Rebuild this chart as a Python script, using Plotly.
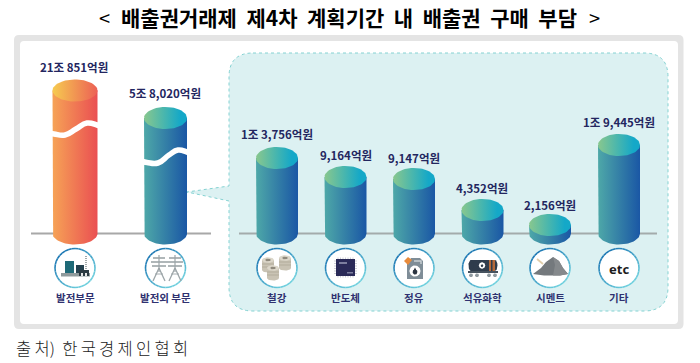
import numpy as np
import plotly.graph_objects as go

# ---------- data ----------
categories = ["발전부문", "발전외 부문", "철강", "반도체", "정유", "석유화학", "시멘트", "기타"]
value_labels = ["21조 851억원", "5조 8,020억원", "1조 3,756억원", "9,164억원", "9,147억원", "4,352억원", "2,156억원", "1조 9,445억원"]
# drawn cylinder heights (the axis is broken for the first two)
drawn_heights = [143, 115.5, 75.5, 56.5, 54.5, 23.5, 8.5, 88.5]

# ---------- layout constants ----------
W, H = 700, 363
BASE = 233.5
centers = [75, 165.5, 277, 345.5, 414, 482.5, 550, 619]
half_widths = [22.5, 21.5, 21, 21, 21, 21, 21, 21]
RY = 11
FONT = "Noto Sans CJK KR"
NAVY = "#23265f"
py = lambda p: BASE - p  # picture row -> axis value

fig = go.Figure()
theta = np.linspace(0, np.pi, 40)


def poly(xs, ys, color, px=True):
    fig.add_trace(go.Scatter(x=list(xs), y=[py(v) for v in ys] if px else list(ys), mode="lines",
                             fill="toself", fillcolor=color, line=dict(width=0), hoverinfo="skip"))


def line(xs, ys, color, w=1.0, dash=None, shape="linear", smoothing=1.0):
    fig.add_trace(go.Scatter(x=list(xs), y=[py(v) for v in ys], mode="lines",
                             line=dict(color=color, width=w, dash=dash, shape=shape,
                                       **({"smoothing": smoothing} if shape == "spline" else {})),
                             hoverinfo="skip"))


def rect(x0, y0, x1, y1, color):
    poly([x0, x1, x1, x0, x0], [y0, y0, y1, y1, y0], color)


def ell(cx, cy, rx, ry, color):
    t = np.linspace(0, 2 * np.pi, 40)
    poly(cx + rx * np.cos(t), cy + ry * np.sin(t), color)


# ---------- cylinders ----------
for i, (cx, rx, h) in enumerate(zip(centers, half_widths, drawn_heights)):
    if i == 0:
        body = [[0, "#f6a356"], [1, "#ea4f52"]]
        top = [[0, "#f6cb50"], [1, "#ec6055"]]
    else:
        body = [[0, "#4ea8a8"], [1, "#1a57a5"]]
        top = [[0, "#88c78e"], [0.85, "#14a8c8"], [1, "#14a8c8"]]
    bx = [cx - rx] + list(cx - rx * np.cos(theta)) + [cx + rx, cx - rx]
    by = [h] + list(-RY * np.sin(theta)) + [h, h]
    fig.add_trace(go.Scatter(x=bx, y=by, mode="lines", fill="toself", line=dict(width=0),
                             fillgradient=dict(type="horizontal", colorscale=body), hoverinfo="skip"))
    t = np.linspace(0, 2 * np.pi, 60)
    fig.add_trace(go.Scatter(x=cx + rx * np.cos(t), y=h + RY * np.sin(t), mode="lines", fill="toself",
                             line=dict(width=0), fillgradient=dict(type="horizontal", colorscale=top),
                             hoverinfo="skip"))

# broken-axis waves
line([48, 54, 65, 76, 87, 97, 102], [133, 134, 135, 129, 123, 125, 127], "#ffffff", 5.5, shape="spline", smoothing=1.3)
line([140, 147, 158, 169, 178, 187, 192], [161, 162.5, 163, 155, 150, 152, 154], "#ffffff", 5.5, shape="spline", smoothing=1.3)

# ---------- icon circles ----------
RING_Y = 268
for cx in centers:
    ell(cx, RING_Y, 20, 19.5, "#ffffff")
    a = np.linspace(0, 2 * np.pi, 37)
    for k in range(36):
        m = (np.cos(a[k] - np.pi * 0.25) + 1) / 2  # 1 at lower right in picture rows
        c0, c1 = np.array([28, 120, 180]), np.array([110, 208, 222])
        col = c0 + (c1 - c0) * m
        line(cx + 20 * np.cos(a[k:k + 2]), RING_Y + 19.5 * np.sin(a[k:k + 2]),
             "rgb(%d,%d,%d)" % tuple(col), 1.6)

# factory
rect(61, 273, 90, 276.5, "#8f9a9c")
rect(65, 261, 74, 273, "#1f6a78")
rect(76, 265, 84, 273, "#24414f")
rect(79, 270, 89, 276, "#2c3a42")
rect(81, 273, 83, 276, "#e6e6e6")
rect(85, 273, 87, 276, "#e6e6e6")
line([86, 86], [256, 270], "#8b9496", 1.6, dash="1px,1px")
# pylons
for px_ in (159, 175):
    col = "#9ca5a8"
    line([px_, px_], [255, 272], col, 1.2)
    line([px_, px_ - 6], [268, 281], col, 1.3)
    line([px_, px_ + 6], [268, 281], col, 1.3)
    for yy, hw in ((258, 6), (262, 8), (266, 7)):
        line([px_ - hw, px_ + hw], [yy, yy], col, 1.6)
    line([px_ - 4, px_ + 4], [274, 274], col, 0.9)
# coils
for ccx, ccy in ((285, 263), (268, 265), (273, 273)):
    rect(ccx - 6, ccy - 5, ccx + 6, ccy + 5, "#c9c3b4")
    ell(ccx, ccy + 5, 6, 2.5, "#c9c3b4")
    line([ccx - 6, ccx + 6], [ccy - 1, ccy - 1], "#a9a394", 0.7)
    line([ccx - 6, ccx + 6], [ccy + 2, ccy + 2], "#a9a394", 0.7)
    ell(ccx, ccy - 5, 6, 2.8, "#dcd7ca")
    ell(ccx, ccy - 5, 2.8, 1.3, "#8f8a7d")
# chip
for d in np.arange(338, 355, 2.5):
    line([d, d], [257.5, 277.5], "#b7b9c4", 0.7)
for d in np.arange(261, 276, 2.5):
    line([334, 357], [d, d], "#b7b9c4", 0.7)
rect(336, 259, 355, 276, "#2a2a58")
rect(339, 262, 347, 264, "#7d7f9f")
rect(347, 272, 353, 273.5, "#7d7f9f")
# jerry can
poly([411, 420, 423, 423, 407, 407, 411], [258, 258, 261, 279, 279, 264, 258], "#7f8d97")
line([414, 421, 421], [261, 261, 264], "#c9d0d4", 1.4)
poly([404, 408, 412, 408], [261, 257, 260, 265], "#e88a3a")
ell(415, 271, 5.5, 5.5, "#ffffff")
ell(415, 272, 2.4, 2.6, "#2b3440")
poly([415, 413.3, 416.7], [267.5, 271, 271], "#2b3440")
# tanker
rect(471, 260, 495, 271, "#2f3c4c")
ell(471, 265.5, 2.5, 5.5, "#2f3c4c")
ell(495, 265.5, 2.5, 5.5, "#2f3c4c")
rect(489, 260, 495, 271, "#b5693a")
rect(491, 260, 492.5, 271, "#2f3c4c")
ell(482, 265.5, 3.2, 3.2, "#ffffff")
ell(482, 265.7, 1.3, 1.5, "#2f3c4c")
rect(468, 271, 498, 273, "#46525e")
for wx in (471, 477, 489, 495):
    ell(wx, 275.3, 2, 2, "#8f999f")
# cement pile
poly([533, 541, 546, 553, 559, 563, 568, 560, 544], [274, 268, 262, 257, 261, 268, 274, 275.5, 275.5], "#74797d")
poly([553, 559, 563, 568, 560, 553, 555], [257, 261, 268, 274, 275.5, 275.5, 265], "#85898c")
line([537, 543], [259, 264], "#e0cdaa", 1.8)

# ---------- text ----------
ann = []


def text(x, y, s, size, color, weight=400, family=FONT):
    ann.append(dict(x=x, y=py(y), text=s, showarrow=False, xanchor="center", yanchor="middle",
                    font=dict(family=family, size=size, color=color, weight=weight)))


label_rows = [66.5, 92.5, 134, 155, 158, 188, 205, 122]
label_x = [74, 165, 277, 346, 414, 482, 550, 619]
for cx, s, row in zip(label_x, value_labels, label_rows):
    text(cx, row, s, 11.5, NAVY, 700)
for cx, s in zip(centers, categories):
    text(cx, 297.5, s, 10.5, "#2f3170", 700)
text(619, 268.5, "etc", 13, "#1d1d1d", 700, "Noto Sans")

text(349, 17, "배출권거래제\u00a0\u00a0제4차\u00a0\u00a0계획기간\u00a0\u00a0내\u00a0\u00a0배출권\u00a0\u00a0구매\u00a0\u00a0부담", 21, "#000000", 700)
text(104, 17, "<", 20, "#000000", 400)
text(594, 17, ">", 20, "#000000", 400)
ann.append(dict(x=14, y=py(348), text="출\u2009처)\u00a0\u00a0한\u2009국\u2009경\u2009제\u2009인\u2009협\u2009회", showarrow=False,
                xanchor="left", yanchor="middle", font=dict(family=FONT, size=16.5, color="#222222", weight=300)))


# ---------- background shapes ----------
def rr(x0, y0, x1, y1, r):
    a, b, c, d = py(y0), py(y1), py(y0 + r), py(y1 - r)
    return (f"M {x0 + r},{a} H {x1 - r} Q {x1},{a} {x1},{c} V {d} Q {x1},{b} {x1 - r},{b} "
            f"H {x0 + r} Q {x0},{b} {x0},{d} V {c} Q {x0},{a} {x0 + r},{a} Z")


panel = (f"M 253,{py(53)} H 644 Q 668,{py(53)} 668,{py(77)} V {py(287)} Q 668,{py(311)} 644,{py(311)} "
         f"H 253 Q 229,{py(311)} 229,{py(287)} V {py(201)} L 187,{py(192)} L 229,{py(186)} V {py(77)} "
         f"Q 229,{py(53)} 253,{py(53)} Z")
shapes = [
    dict(type="path", path=rr(14, 35, 683.5, 329, 5), fillcolor="#e4e4e4", line=dict(width=0), layer="below"),
    dict(type="path", path=rr(20, 41, 678, 324, 4), fillcolor="#ffffff", line=dict(width=0), layer="below"),
    dict(type="path", path=panel, fillcolor="#dcf1f2", line=dict(color="#84d2d2", width=1, dash="dot"), layer="below"),
    dict(type="line", x0=31, x1=211, y0=0, y1=0, line=dict(color="#a8a8a8", width=2), layer="below"),
    dict(type="line", x0=239, x1=657, y0=0, y1=0, line=dict(color="#a3abab", width=2), layer="below"),
]

fig.update_layout(
    width=W, height=H, margin=dict(l=0, r=0, t=0, b=0), showlegend=False,
    paper_bgcolor="#ffffff", plot_bgcolor="#ffffff",
    xaxis=dict(range=[0, W], visible=False, fixedrange=True),
    yaxis=dict(range=[BASE - H, BASE], visible=False, fixedrange=True),
    shapes=shapes, annotations=ann,
)
fig.write_html("out.html", config={"displayModeBar": False}, default_width=W, default_height=H,
               post_script="document.body.style.margin='0';document.body.style.overflow='hidden';")
